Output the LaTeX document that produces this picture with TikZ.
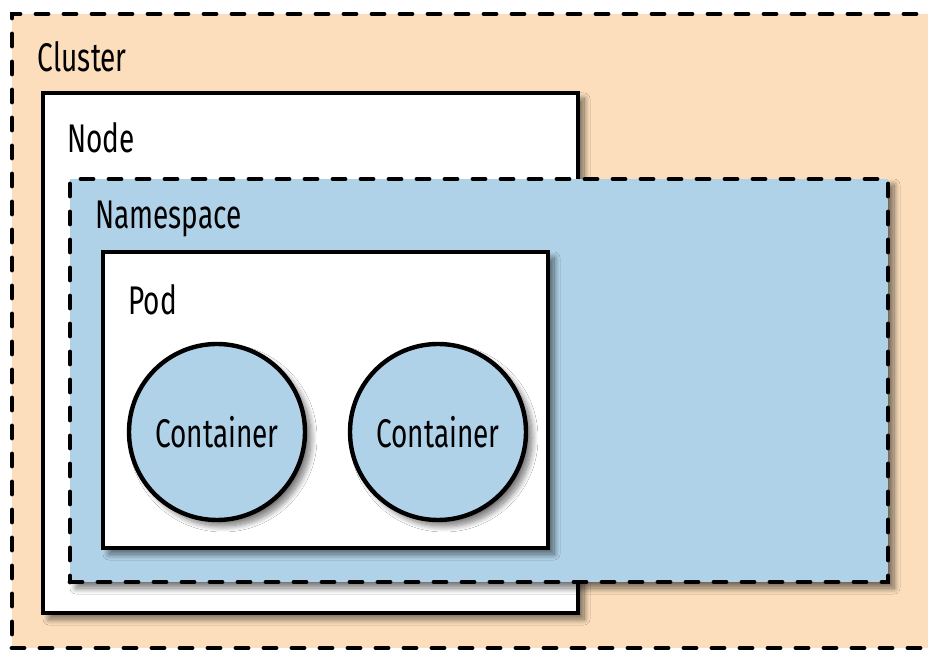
\documentclass[tikz,border=0pt]{standalone}
\usepackage{fontspec}
\setmainfont[FakeStretch=0.70]{Fira Sans}
\usetikzlibrary{positioning, fit, shadows.blur}

\definecolor{peach}{RGB}{252,222,188}
\definecolor{paleblue}{RGB}{176,210,232}

\begin{document}
\begin{tikzpicture}[
  x=0.5pt, y=-0.5pt,
  shade/.style = {blur shadow={shadow xshift=3pt, shadow yshift=-3pt, shadow blur radius=3pt, shadow blur steps=12, shadow opacity=55}},
  area/.style = {draw, line width=2.4pt, line cap=round, dash pattern=on 6pt off 8pt, inner sep=0pt},
  box/.style = {draw, line width=2.2pt, fill=white, inner sep=0pt, shade},
  ctr/.style = {circle, draw, line width=2.2pt, fill=paleblue, minimum size=88pt, inner sep=0pt, shade},
  tag/.style = {anchor=north west, inner sep=0pt, font=\fontsize{20}{24}\selectfont}
]
  \useasboundingbox (0,0) rectangle (928,651);
  \clip (0,0) rectangle (928,651);

  % corners of the nested areas
  \coordinate (cl1) at (12,14);   \coordinate (cl2) at (945,648);
  \coordinate (nd1) at (43,93);   \coordinate (nd2) at (578,613);
  \coordinate (ns1) at (70,179);  \coordinate (ns2) at (888,582);
  \coordinate (pd1) at (103,252); \coordinate (pd2) at (548,548);

  % cluster
  \node[area, fill=peach, fit=(cl1)(cl2)] (cluster) {};
  \node[tag, below right=15pt and 14pt of cluster.north west] (cluster_lbl) {Cluster};

  % node
  \node[box, fit=(nd1)(nd2)] (node) {};
  \node[tag, below right=15.5pt and 13pt of node.north west] (node_lbl) {Node};

  % namespace
  \node[area, fill=paleblue, shade, fit=(ns1)(ns2)] (namespace) {};
  \node[tag, below right=12pt and 13.5pt of namespace.north west] (namespace_lbl) {Namespace};

  % pod
  \node[box, fit=(pd1)(pd2)] (pod) {};
  \node[tag, below right=17pt and 13.5pt of pod.north west] (pod_lbl) {Pod};

  % containers
  \node[ctr, font=\fontsize{20}{24}\selectfont] (ctr_a) at (217,432) {Container};
  \node[ctr, font=\fontsize{20}{24}\selectfont] (ctr_b) at (438,432) {Container};

\end{tikzpicture}
\end{document}
